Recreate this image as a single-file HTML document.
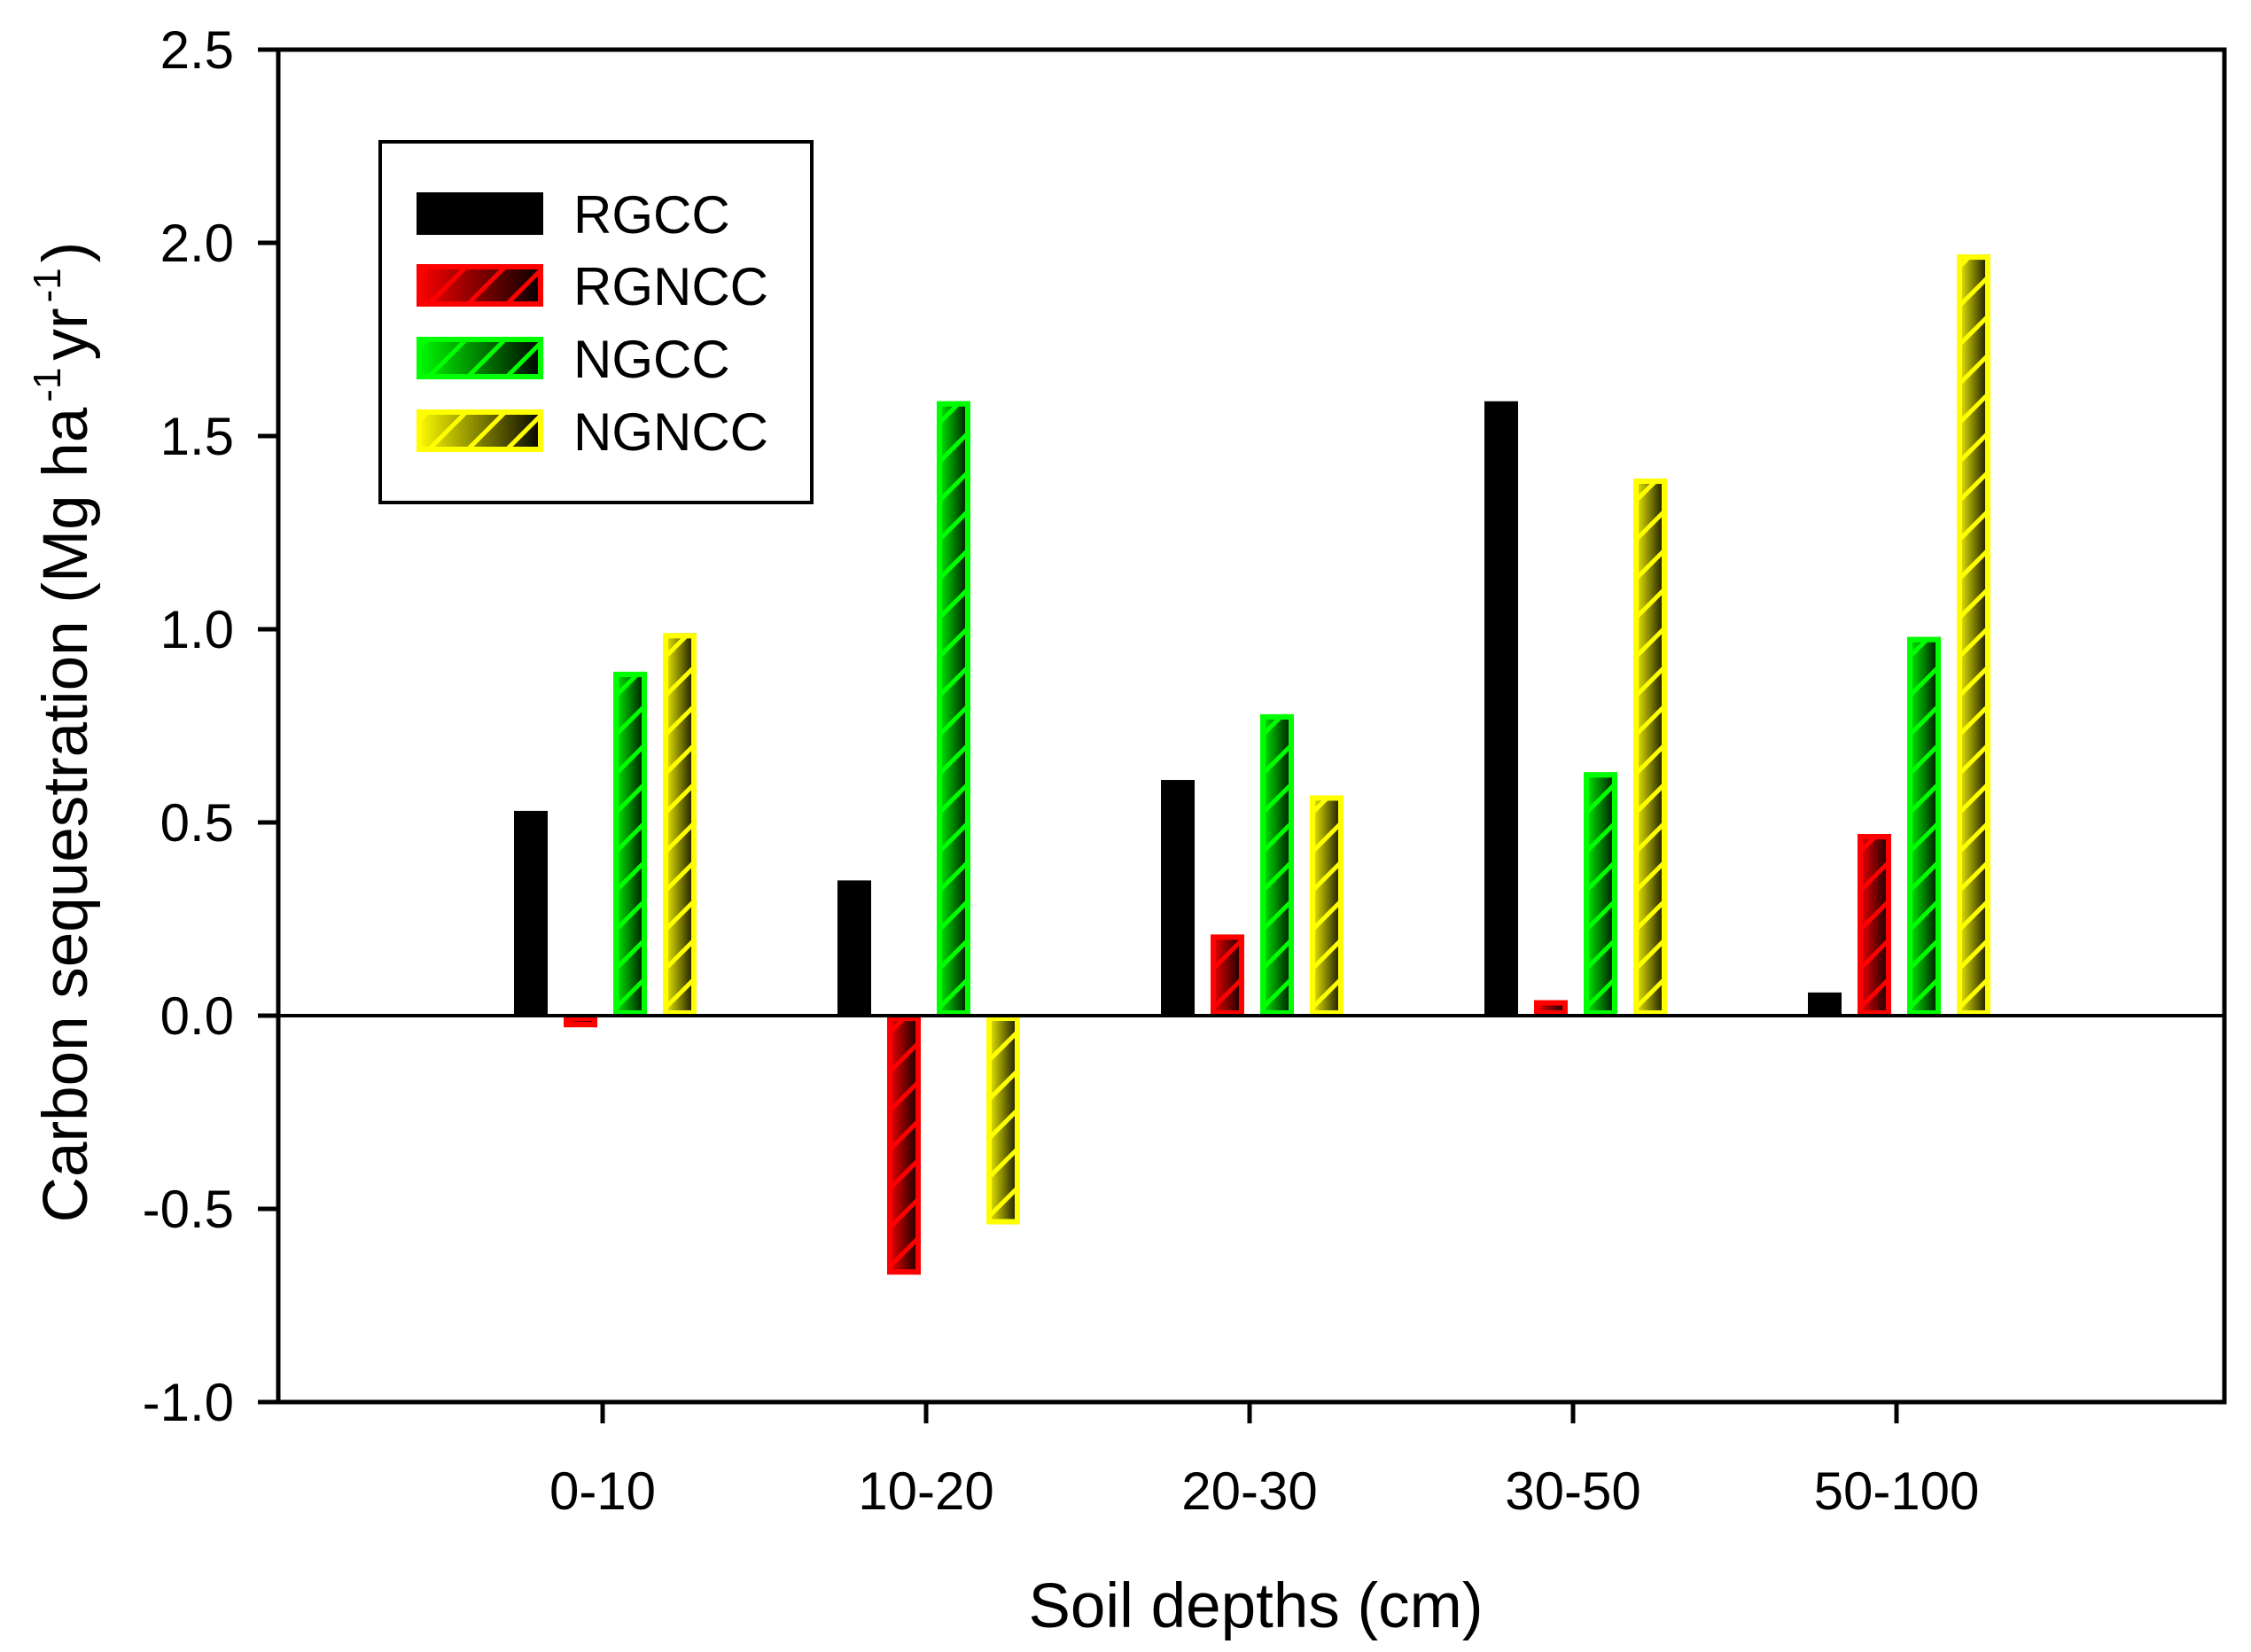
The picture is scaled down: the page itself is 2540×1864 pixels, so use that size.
<!DOCTYPE html>
<html><head><meta charset="utf-8"><style>
html,body{margin:0;padding:0;background:#fff;}
svg{display:block;font-family:"Liberation Sans",Arial,sans-serif;}
</style></head><body>
<svg id="chart" width="2540" height="1864" viewBox="0 0 2540 1864" xmlns="http://www.w3.org/2000/svg">
<defs>
<linearGradient id="g-red" x1="0" x2="1" y1="0" y2="0"><stop offset="0" stop-color="#ff0000"/><stop offset="1" stop-color="#000"/></linearGradient>
<linearGradient id="g-green" x1="0" x2="1" y1="0" y2="0"><stop offset="0" stop-color="#00ff00"/><stop offset="1" stop-color="#000"/></linearGradient>
<linearGradient id="g-yellow" x1="0" x2="1" y1="0" y2="0"><stop offset="0" stop-color="#ffff00"/><stop offset="1" stop-color="#000"/></linearGradient>
</defs>
<g id="plot"></g>
</svg>
<script>
const categories = ["0-10","10-20","20-30","30-50","50-100"];
const seriesNames = ["RGCC","RGNCC","NGCC","NGNCC"];
const rgcc  = [0.53, 0.35, 0.61, 1.59, 0.06];
const rgncc = [-0.03, -0.67, 0.21, 0.04, 0.47];
const ngcc  = [0.89, 1.59, 0.78, 0.63, 0.98];
const ngncc = [0.99, -0.54, 0.57, 1.39, 1.97];
const yTicks = [2.5, 2.0, 1.5, 1.0, 0.5, 0.0, -0.5, -1.0];
const yTickLabels = ["2.5","2.0","1.5","1.0","0.5","0.0","-0.5","-1.0"];

const NS = "http://www.w3.org/2000/svg";
const plot = document.getElementById("plot");
const L = 314, R = 2510, T = 56, B = 1582;
const yMin = -1.0, yMax = 2.5;
function yScale(v){ return B - (v - yMin) / (yMax - yMin) * (B - T); }
function xScale(i){ return 680 + i * 365; }
function mk(tag, attrs, parent){
  const e = document.createElementNS(NS, tag);
  for (const k in attrs) e.setAttribute(k, attrs[k]);
  (parent || plot).appendChild(e);
  return e;
}
const colors = [null, "#ff0000", "#00ff00", "#ffff00"];
const grads = [null, "url(#g-red)", "url(#g-green)", "url(#g-yellow)"];
const allSeries = [rgcc, rgncc, ngcc, ngncc];
let clipN = 0;
function hatchBar(x, y, w, h, k, parent){
  const g = mk("g", {}, parent);
  if (k === 0) { mk("rect", {x:x, y:y, width:w, height:h, fill:"#000"}, g); return g; }
  const cid = "clip" + (clipN++);
  const cp = mk("clipPath", {id:cid}, g);
  mk("rect", {x:x, y:y, width:w, height:h}, cp);
  mk("rect", {x:x, y:y, width:w, height:h, fill:grads[k]}, g);
  const lg = mk("g", {"clip-path":"url(#"+cid+")"}, g);
  for (let yy = y + h + w; yy > y - w; yy -= 44) {
    mk("line", {x1:x, y1:yy, x2:x + w, y2:yy - w, stroke:colors[k], "stroke-width":5}, lg);
  }
  mk("rect", {x:x+3, y:y+3, width:Math.max(w-6,0), height:Math.max(h-6,0), fill:"none", stroke:colors[k], "stroke-width":6}, g);
  return g;
}

const y0 = yScale(0);
for (let s = 0; s < 4; s++) {
  for (let i = 0; i < categories.length; i++) {
    const v = allSeries[s][i];
    const x = xScale(i) - 100 + 56 * s;
    const yv = yScale(v);
    const top = Math.min(yv, y0), h = Math.max(Math.abs(yv - y0), 6);
    const b = hatchBar(x, top, 38, h, s);
    
    
  }
}
const zl = mk("line", {x1:L, x2:R, y1:y0, y2:y0, stroke:"#000", "stroke-width":4});


const fr = mk("rect", {x:L, y:T, width:R-L, height:B-T, fill:"none", stroke:"#000", "stroke-width":5});


for (let i = 0; i < yTicks.length; i++) {
  const yy = yScale(yTicks[i]);
  mk("line", {x1:291, x2:L, y1:yy, y2:yy, stroke:"#000", "stroke-width":5});
  const t = mk("text", {x:264, y:yy + 21, "text-anchor":"end", "font-size":60, fill:"#000"});
  t.textContent = yTickLabels[i];
  
  
}
for (let i = 0; i < categories.length; i++) {
  const xx = xScale(i);
  mk("line", {x1:xx, x2:xx, y1:B, y2:B + 24, stroke:"#000", "stroke-width":5});
  const t = mk("text", {x:xx, y:1703, "text-anchor":"middle", "font-size":60, fill:"#000"});
  t.textContent = categories[i];
  
  
}
const xt = mk("text", {x:1417, y:1836, "text-anchor":"middle", "font-size":71, fill:"#000"});
xt.textContent = "Soil depths (cm)";


const yt = mk("text", {x:0, y:0, "text-anchor":"middle", "font-size":71, fill:"#000", transform:"translate(98,826) rotate(-90)"});
yt.innerHTML = 'Carbon sequestration (Mg ha<tspan dx="6" dy="-30" font-size="44">-1</tspan><tspan dx="8" dy="30">yr</tspan><tspan dx="6" dy="-30" font-size="44">-1</tspan><tspan dx="6" dy="30">)</tspan>';


const lg = mk("g", {});


mk("rect", {x:429, y:160, width:487, height:407, fill:"#fff", stroke:"#000", "stroke-width":4}, lg);
const rowsY = [217, 298, 380, 462];
for (let s = 0; s < 4; s++) {
  const e = mk("g", {}, lg);
  
  
  hatchBar(470, rowsY[s], 143, 48, s, e);
  const t = mk("text", {x:647, y:rowsY[s] + 46, "font-size":60, fill:"#000"}, e);
  t.textContent = seriesNames[s];
}
</script>
</body></html>
